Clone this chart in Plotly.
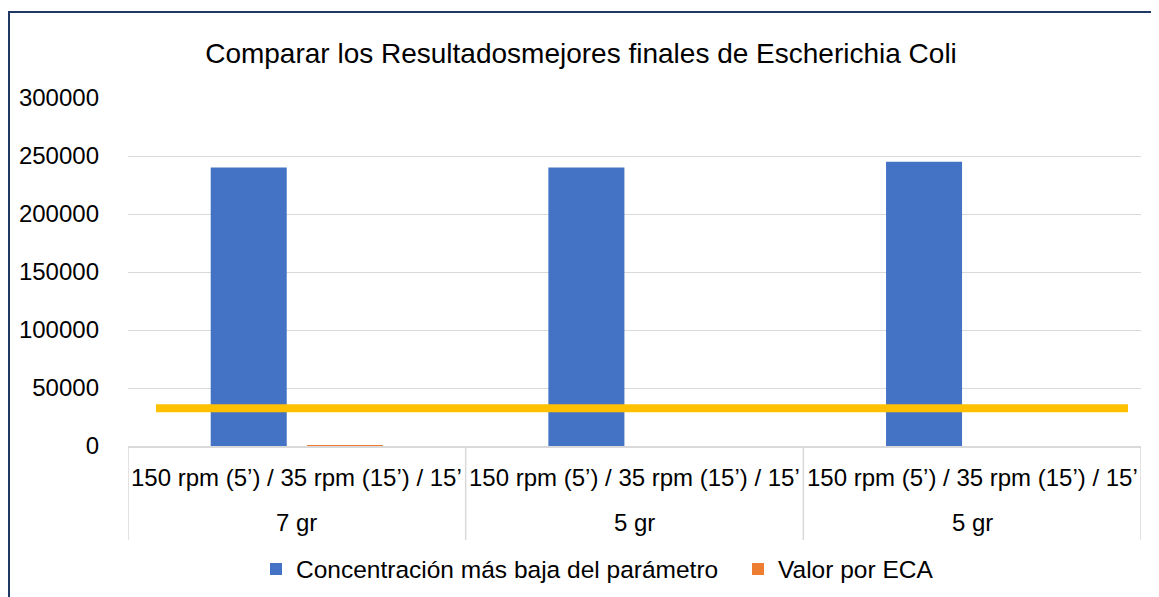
import plotly.graph_objects as go

# ---- data ----
categories_top = ["150 rpm (5’) / 35 rpm (15’) / 15’", "150 rpm (5’) / 35 rpm (15’) / 15’", "150 rpm (5’) / 35 rpm (15’) / 15’"]
categories_bottom = ["7 gr", "5 gr", "5 gr"]
concentracion = [240000, 240000, 245000]
valor_eca = [800, 0, 0]
eca_line_value = 32500
y_ticks = [0, 50000, 100000, 150000, 200000, 250000, 300000]
title_text = "Comparar los Resultadosmejores finales de Escherichia Coli"
series_names = ["Concentración más baja del parámetro", "Valor por ECA"]

OFF = 8  # page body margin
W, H = 1159 - OFF, 597 - OFF
L = 128 - OFF
T = 98 - OFF
B = H - (446 - OFF)
R = W - (1141 - OFF)
plot_w = W - L - R
plot_h = H - T - B

def px_x(px):
    return (px - OFF - L) / plot_w

def px_y(py):
    return (H - B - (py - OFF)) / plot_h

xs = list(range(len(categories_bottom)))
font_family = "Liberation Sans, Arial, sans-serif"
FS = 24

fig = go.Figure()
fig.add_trace(go.Bar(x=xs, y=concentracion, name=series_names[0], marker_color="#4472C4",
                     marker_line_width=0))
fig.add_trace(go.Bar(x=xs, y=valor_eca, name=series_names[1], marker_color="#ED7D31",
                     marker_line_width=0))

shapes = []
# ECA threshold line
shapes.append(dict(type="line", xref="paper", yref="y", x0=px_x(156), x1=px_x(1128),
                   y0=eca_line_value, y1=eca_line_value, line=dict(color="#FFC000", width=8)))
# category dividers
for i in range(len(xs) + 1):
    xv = i - 0.5
    shapes.append(dict(type="line", xref="x", yref="paper", x0=xv, x1=xv,
                       y0=0, y1=px_y(540), line=dict(color="#D9D9D9", width=1.5)))
# chart border
shapes.append(dict(type="rect", xref="paper", yref="paper", x0=px_x(9), x1=px_x(1250),
                   y0=px_y(700), y1=px_y(12), line=dict(color="#1F3864", width=2),
                   fillcolor="rgba(0,0,0,0)", layer="above"))

annotations = []
for i, (t, b) in enumerate(zip(categories_top, categories_bottom)):
    annotations.append(dict(x=i, y=px_y(477), xref="x", yref="paper", text=t, showarrow=False,
                            font=dict(size=FS, color="#000000", family=font_family),
                            xanchor="center", yanchor="middle"))
    annotations.append(dict(x=i, y=px_y(522), xref="x", yref="paper", text=b, showarrow=False,
                            font=dict(size=FS, color="#000000", family=font_family),
                            xanchor="center", yanchor="middle"))

fig.update_layout(
    width=W, height=H,
    margin=dict(l=L, r=R, t=T, b=B, autoexpand=False),
    paper_bgcolor="white", plot_bgcolor="white",
    title=dict(text=title_text, x=(581 - OFF) / W, xanchor="center",
               y=1 - (53 - OFF) / H, yanchor="middle",
               yref="container", font=dict(size=28, color="#000000", family=font_family)),
    barmode="group", bargap=0.43, bargroupgap=0.21,
    shapes=shapes, annotations=annotations,
    showlegend=True,
    legend=dict(orientation="h", x=px_x(256), xanchor="left", y=px_y(569), yanchor="middle",
                font=dict(size=24.5, color="#000000", family=font_family),
                traceorder="normal", entrywidth=437, entrywidthmode="pixels"),
    font=dict(family=font_family, color="#000000"),
)
fig.update_xaxes(range=[-0.5, len(xs) - 0.5], showticklabels=False, showgrid=False,
                 zeroline=False, showline=True, linecolor="#D9D9D9", linewidth=2, ticks="",
                 automargin=False)
fig.update_yaxes(range=[0, 300000], tickvals=y_ticks, ticktext=[str(v) for v in y_ticks],
                 showgrid=True, gridcolor="#D9D9D9", gridwidth=1, zeroline=False,
                 showline=False, ticks="", ticklabelstandoff=28, automargin=False,
                 tickfont=dict(size=FS, color="#000000", family=font_family))

fig.write_html("out.html")
